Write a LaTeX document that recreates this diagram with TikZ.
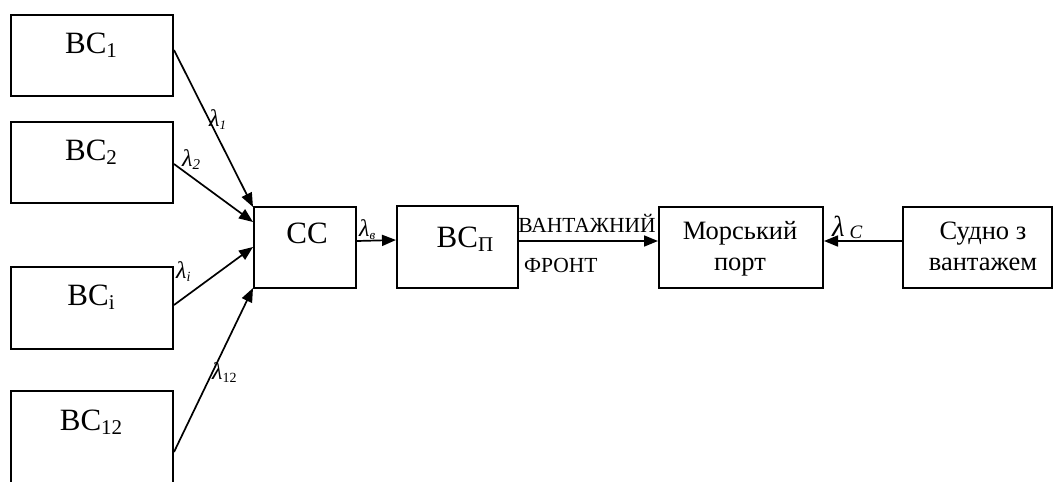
\documentclass[tikz,border=0pt]{standalone}
\usepackage{fontspec}
\setmainfont{Liberation Serif}
\usetikzlibrary{arrows.meta}

% lowered index: drop, size, text
\newcommand{\ix}[3]{\raisebox{-#1}{\fontsize{#2}{#2}\selectfont #3}}

\begin{document}
\begin{tikzpicture}[x=1pt,y=-1pt,
  blk/.style={draw, line width=2pt, rectangle, inner sep=0pt, anchor=north west},
  big/.style={font=\fontsize{31}{33}\selectfont, inner sep=0pt, anchor=base},
  mid/.style={font=\fontsize{26.5}{28}\selectfont, inner sep=0pt, anchor=base},
  small/.style={font=\fontsize{21.5}{23}\selectfont, inner sep=0pt, anchor=base west},
  lam/.style={font=\fontsize{24}{25}\selectfont\itshape, inner sep=0pt, anchor=base west},
  flow/.style={line width=1.7pt, -{Triangle[length=14pt,width=11pt]}}
]
\useasboundingbox (0,0) rectangle (1053,482);
\begin{scope}
\clip (0,0) rectangle (1053,482);
% blocks
\node[blk, minimum width=162pt, minimum height=81pt] (bc1) at (10,14) {};
\node[blk, minimum width=162pt, minimum height=81pt] (bc2) at (10,121) {};
\node[blk, minimum width=162pt, minimum height=82pt] (bci) at (10,266) {};
\node[blk, minimum width=162pt, minimum height=100pt] (bc12) at (10,390) {};
\node[blk, minimum width=102pt, minimum height=81pt] (cc) at (253,206) {};
\node[blk, minimum width=121pt, minimum height=82pt] (bcp) at (396,205) {};
\node[blk, minimum width=164pt, minimum height=81pt] (port) at (658,206) {};
\node[blk, minimum width=149pt, minimum height=81pt] (ship) at (902,206) {};
\end{scope}

% block texts
\node[big] (t1) at (91,53) {ВС\ix{4pt}{21}{1}};
\node[big] (t2) at (91,160) {ВС\ix{4pt}{21}{2}};
\node[big] (ti) at (91,305) {ВС\ix{4pt}{21}{і}};
\node[big] (t12) at (91,430) {ВС\ix{4pt}{21}{12}};
\node[big] (tcc) at (307,243) {СС};
\node[big] (tbcp) at (465,247) {ВС\ix{4pt}{21}{П}};
\node[mid] (tp1) at (740,239) {Морський};
\node[mid] (tp2) at (740,270) {порт};
\node[mid] (ts1) at (983,239) {Судно з};
\node[mid] (ts2) at (983,270) {вантажем};

% coordinates on the edges
\coordinate (s1) at ([yshift=-36pt]bc1.north east);
\coordinate (s2) at ([yshift=-43pt]bc2.north east);
\coordinate (si) at ([yshift=-39pt]bci.north east);
\coordinate (s12) at ([yshift=-62pt]bc12.north east);
\coordinate (e1) at ([yshift=-1pt]cc.north west);
\coordinate (e2) at ([yshift=-16pt]cc.north west);
\coordinate (ei) at ([yshift=-41pt]cc.north west);
\coordinate (e12) at ([yshift=1pt]cc.south west);

% connectors
\draw[flow] (s1) -- (e1);
\draw[flow] (s2) -- (e2);
\draw[flow] (si) -- (ei);
\draw[flow] (s12) -- (e12);
\draw[flow] ([yshift=-35pt]cc.north east) -- ([yshift=-35pt]bcp.north west);
\draw[flow] ([yshift=-36pt]bcp.north east) -- ([yshift=-35pt]port.north west);
\draw[flow] ([yshift=-35pt]ship.north west) -- ([yshift=-35pt]port.north east);

% flow labels
\node[lam] (l1) at (209,126) {λ\ix{3pt}{13}{1}};
\node[lam] (l2) at (182,166) {λ\ix{3pt}{15}{2}};
\node[lam] (li) at (176,278) {λ\ix{3pt}{14}{i}};
\node[lam] (l12) at (212,379) {λ\ix{3pt}{14}{\upshape 12}};
\node[lam] (lv) at (359,236) {λ\ix{3pt}{13}{в}};
\node[lam, font=\fontsize{29}{30}\selectfont\itshape] (lc) at (832,236) {λ\,\ix{2pt}{19}{C}};
\node[small, anchor=base] (cargo) at (587,232) {ВАНТАЖНИЙ};
\node[small] (front) at (524,272) {ФРОНТ};
\end{tikzpicture}
\end{document}
